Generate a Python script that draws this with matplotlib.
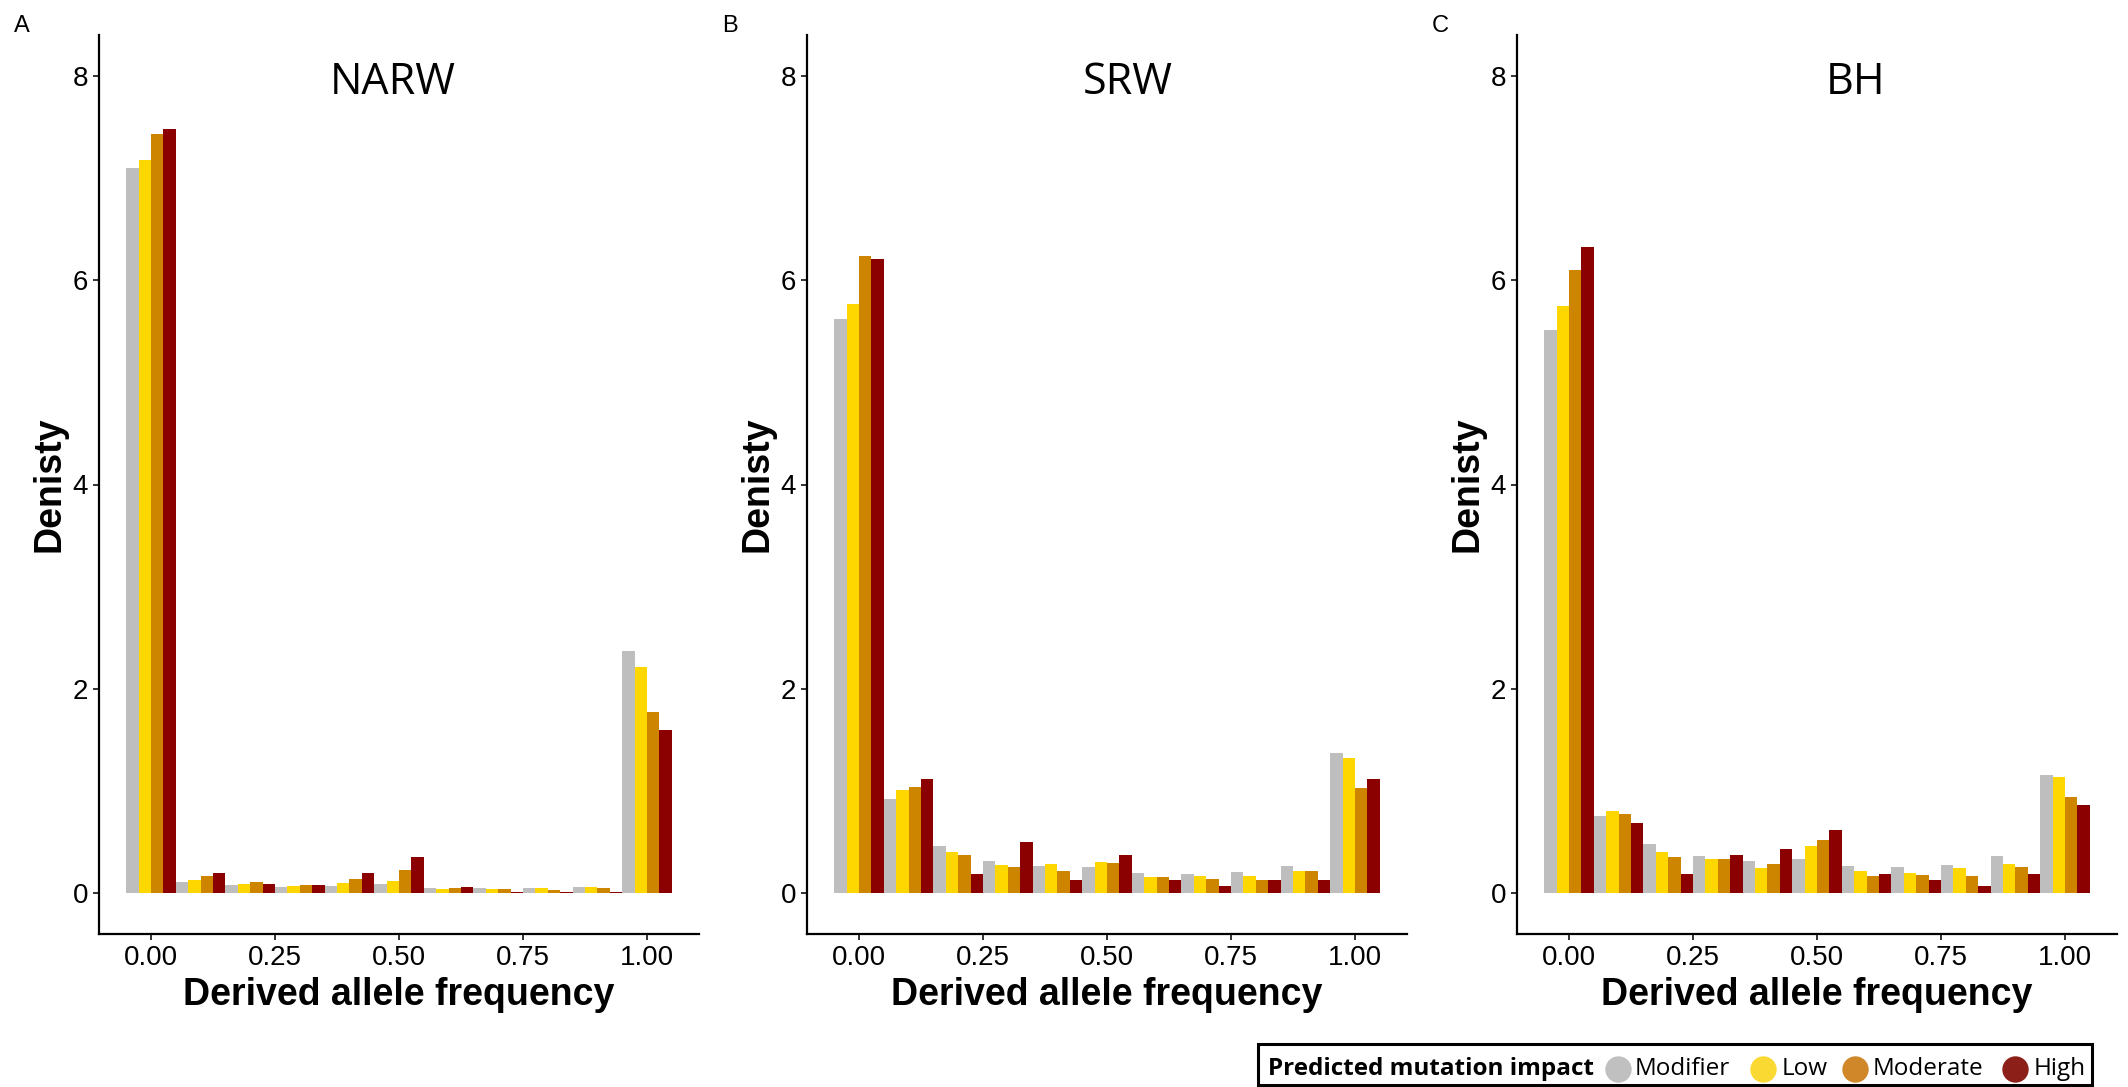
import matplotlib
matplotlib.use("Agg")
import matplotlib.pyplot as plt
from matplotlib.patches import Rectangle
import numpy as np

# ---------------- data ----------------
bins = [0.0, 0.1, 0.2, 0.3, 0.4, 0.5, 0.6, 0.7, 0.8, 0.9, 1.0]
impacts = ["Modifier", "Low", "Moderate", "High"]
populations = ["NARW", "SRW", "BH"]
panel_letters = ["A", "B", "C"]

narw_modifier = [7.10, 0.107, 0.078, 0.059, 0.068, 0.088, 0.049, 0.049, 0.049, 0.059, 2.37]
narw_low      = [7.18, 0.127, 0.088, 0.068, 0.098, 0.117, 0.039, 0.039, 0.049, 0.059, 2.21]
narw_moderate = [7.43, 0.166, 0.107, 0.078, 0.137, 0.225, 0.049, 0.039, 0.029, 0.049, 1.77]
narw_high     = [7.48, 0.195, 0.088, 0.078, 0.195, 0.352, 0.059, 0.010, 0.010, 0.010, 1.60]

srw_modifier = [5.62, 0.919, 0.459, 0.313, 0.264, 0.254, 0.195, 0.186, 0.205, 0.264, 1.368]
srw_low      = [5.77, 1.007, 0.401, 0.274, 0.283, 0.303, 0.156, 0.166, 0.166, 0.215, 1.319]
srw_moderate = [6.24, 1.036, 0.371, 0.254, 0.215, 0.293, 0.156, 0.137, 0.127, 0.215, 1.026]
srw_high     = [6.21, 1.114, 0.186, 0.498, 0.127, 0.371, 0.127, 0.068, 0.127, 0.127, 1.114]

bh_modifier = [5.51, 0.752, 0.479, 0.362, 0.313, 0.332, 0.264, 0.254, 0.274, 0.362, 1.153]
bh_low      = [5.75, 0.801, 0.401, 0.332, 0.244, 0.459, 0.215, 0.195, 0.244, 0.283, 1.134]
bh_moderate = [6.10, 0.772, 0.352, 0.332, 0.283, 0.518, 0.166, 0.176, 0.166, 0.254, 0.938]
bh_high     = [6.32, 0.684, 0.186, 0.371, 0.430, 0.616, 0.186, 0.127, 0.068, 0.186, 0.860]

panel_data = [
    [narw_modifier, narw_low, narw_moderate, narw_high],
    [srw_modifier, srw_low, srw_moderate, srw_high],
    [bh_modifier, bh_low, bh_moderate, bh_high],
]

x_ticks = [0.0, 0.25, 0.5, 0.75, 1.0]
x_tick_labels = ["0.00", "0.25", "0.50", "0.75", "1.00"]
y_ticks = [0, 2, 4, 6, 8]
y_tick_labels = ["0", "2", "4", "6", "8"]

# ---------------- style ----------------
bar_colors = ["#BEBEBE", "#FFD700", "#CD8500", "#8B0000"]
legend_colors = ["#C0C0C0", "#FBD933", "#D0872A", "#8C1F17"]
title_x = [0.487, 0.542, 0.578]

W, H = 2128, 1087
fig = plt.figure(figsize=(W / 100, H / 100), dpi=100)

ax_bottom_px, ax_top_px = 934, 35
ax_lefts_px = [99, 807, 1517]
ax_width_px = 600

bar_w = 0.025
offsets = [-1.5 * bar_w, -0.5 * bar_w, 0.5 * bar_w, 1.5 * bar_w]
bins_arr = np.array(bins)

for i in range(3):
    l = ax_lefts_px[i] / W
    b = 1 - ax_bottom_px / H
    h = (ax_bottom_px - ax_top_px) / H
    ax = fig.add_axes([l, b, ax_width_px / W, h])
    for k in range(4):
        ax.bar(bins_arr + offsets[k], panel_data[i][k], width=bar_w,
               color=bar_colors[k], linewidth=0, align="center")
    ax.set_xlim(-0.105, 1.105)
    ax.set_ylim(-0.4, 8.4)
    ax.set_xticks(x_ticks)
    ax.set_xticklabels(x_tick_labels)
    ax.set_yticks(y_ticks)
    ax.set_yticklabels(y_tick_labels)
    for sp in ["top", "right"]:
        ax.spines[sp].set_visible(False)
    for sp in ["left", "bottom"]:
        ax.spines[sp].set_linewidth(1.6)
        ax.spines[sp].set_color("black")
    ax.tick_params(axis="both", length=4, width=1.4, color="#333333",
                   labelsize=20, pad=4)
    for lab in ax.get_xticklabels() + ax.get_yticklabels():
        lab.set_fontfamily("Liberation Sans")
        lab.set_color("black")
    ax.text(title_x[i], 7.93, populations[i], fontsize=31, family="Open Sans",
            ha="center", va="center")
    ax.text(0.5, -0.079, "Derived allele frequency", transform=ax.transAxes,
            fontsize=27, fontweight="bold", family="Liberation Sans",
            ha="center", va="baseline")
    ax.text(-0.0817, 0.5, "Denisty", transform=ax.transAxes, rotation=90,
            fontsize=27, fontweight="bold", family="Liberation Sans",
            ha="center", va="center")
    fig.text((ax_lefts_px[i] - 85) / W, 1 - 32 / H, panel_letters[i],
             fontsize=17, family="Liberation Sans", ha="left", va="baseline")

# ---------------- legend ----------------
lax = fig.add_axes([0, 0, 1, 1], facecolor="none")
lax.set_xlim(0, W)
lax.set_ylim(H, 0)
lax.axis("off")
lax.add_patch(Rectangle((1258, 1044), 834, 41, fill=False,
                        edgecolor="black", linewidth=2.2))
lax.text(1268, 1075, "Predicted mutation impact", fontsize=17.5,
         fontweight="bold", family="Open Sans", ha="left", va="baseline")
circle_x = [1618, 1763, 1855, 2015]
label_x = [1635, 1782, 1873, 2034]
for k in range(4):
    lax.plot([circle_x[k]], [1068.5], marker="o", markersize=19,
             color=legend_colors[k], markeredgewidth=0, linestyle="none")
    lax.text(label_x[k], 1075, impacts[k], fontsize=17.5, family="Open Sans",
             ha="left", va="baseline")

fig.savefig("out.png", dpi=100)
